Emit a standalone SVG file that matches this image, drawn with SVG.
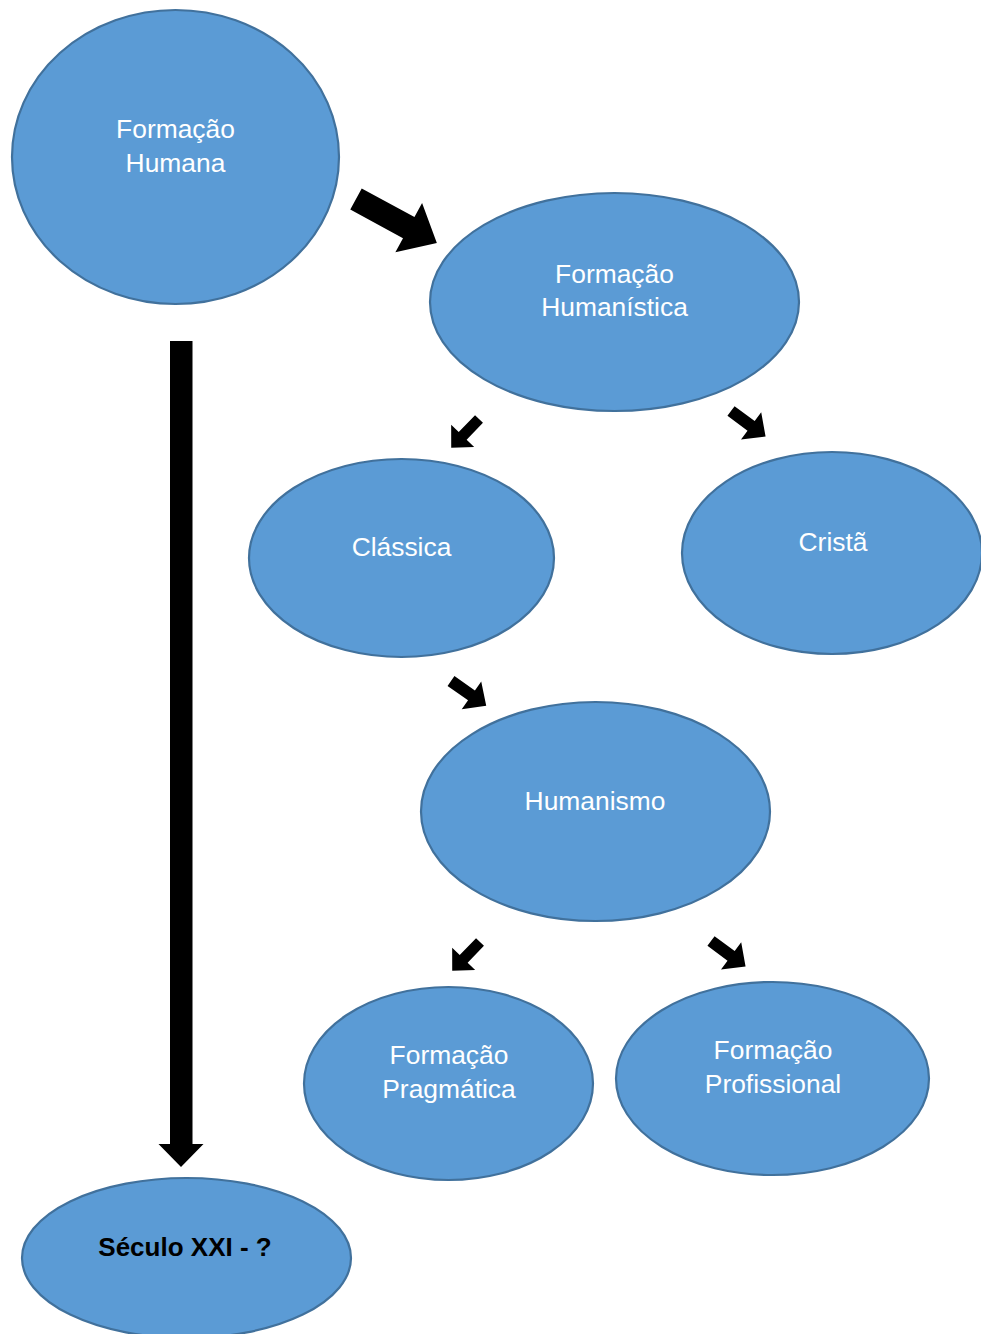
<svg xmlns="http://www.w3.org/2000/svg" width="981" height="1334" viewBox="0 0 981 1334">
<style>
.n{fill:#5B9BD5;stroke:#41719C;stroke-width:2.2}
.t{font-family:"Liberation Sans",Arial,sans-serif;font-size:26.4px;fill:#fff;text-anchor:middle}
.b{font-family:"Liberation Sans",Arial,sans-serif;font-size:26px;font-weight:bold;fill:#000;text-anchor:middle}
.a{fill:#000}
</style>
<defs>
<path id="sm" d="M0,-5.5 H23.5 V-16 L40,0 L23.5,16 V5.5 H0 Z"/>
<path id="sr" d="M0,-6 H25 V-17 L43,0 L25,17 V6 H0 Z"/>
</defs>
<rect width="981" height="1334" fill="#fff"/>
<g id="connectors">
<path class="a" d="M0,-12 H60 V-28 L92,0 L60,28 V12 H0 Z" transform="translate(356,199) rotate(28.5)"/>
<use href="#sm" class="a" transform="translate(479,419) rotate(134)"/>
<use href="#sr" class="a" transform="translate(731,411) rotate(36.5)"/>
<use href="#sr" class="a" transform="translate(451,681) rotate(35)"/>
<use href="#sm" class="a" transform="translate(480,942) rotate(134)"/>
<use href="#sr" class="a" transform="translate(711,941) rotate(36.5)"/>
<path class="a" d="M170,341 H192.5 V1144 H203.5 L181,1167 L158.5,1144 H170 Z"/>
</g>
<g id="formacao-humana"><ellipse class="n" cx="175.5" cy="157" rx="163.5" ry="147"/><text class="t" x="175.5" y="138">Formação</text><text class="t" x="175.5" y="172">Humana</text></g>
<g id="formacao-humanistica"><ellipse class="n" cx="614.5" cy="302" rx="184.5" ry="109"/><text class="t" x="614.5" y="283">Formação</text><text class="t" x="614.5" y="316">Humanística</text></g>
<g id="classica"><ellipse class="n" cx="401.5" cy="558" rx="152.5" ry="99"/><text class="t" x="401.5" y="556">Clássica</text></g>
<g id="crista"><ellipse class="n" cx="832" cy="553" rx="150" ry="101"/><text class="t" x="833" y="551">Cristã</text></g>
<g id="humanismo"><ellipse class="n" cx="595.5" cy="811.5" rx="174.5" ry="109.5"/><text class="t" x="595" y="810">Humanismo</text></g>
<g id="formacao-pragmatica"><ellipse class="n" cx="448.5" cy="1083.5" rx="144.5" ry="96.5"/><text class="t" x="449" y="1064">Formação</text><text class="t" x="449" y="1098">Pragmática</text></g>
<g id="formacao-profissional"><ellipse class="n" cx="772.5" cy="1078.5" rx="156.5" ry="96.5"/><text class="t" x="773" y="1059">Formação</text><text class="t" x="773" y="1093">Profissional</text></g>
<g id="seculo-xxi"><ellipse class="n" cx="186.5" cy="1258" rx="164.5" ry="80"/><text class="b" x="185" y="1256">Século XXI - ?</text></g>
</svg>
